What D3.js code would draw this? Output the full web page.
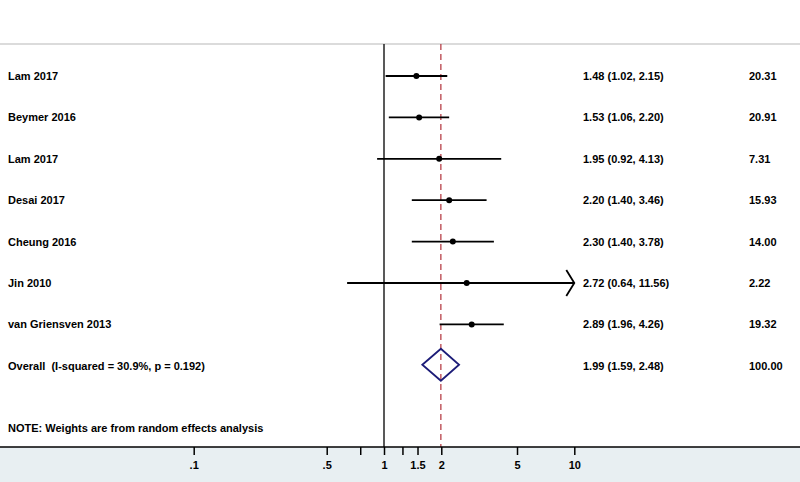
<!DOCTYPE html>
<html>
<head>
<meta charset="utf-8">
<script src="https://cdn.jsdelivr.net/npm/d3@7"></script>
<style>
  body { margin: 0; background: #fff; }
  svg text { font-family: "Liberation Sans", Arial, Helvetica, sans-serif; font-weight: bold; font-size: 11px; fill: #000; white-space: pre; }
</style>
</head>
<body>
<div id="chart"></div>
<script>
// study rows
var studies = ["Lam 2017", "Beymer 2016", "Lam 2017", "Desai 2017", "Cheung 2016", "Jin 2010", "van Griensven 2013"];
var es = [1.48, 1.53, 1.95, 2.20, 2.30, 2.72, 2.89];
var lower = [1.02, 1.06, 0.92, 1.40, 1.40, 0.64, 1.96];
var upper = [2.15, 2.20, 4.13, 3.46, 3.78, 11.56, 4.26];
var weights = ["20.31", "20.91", "7.31", "15.93", "14.00", "2.22", "19.32"];

// pooled estimate
var overallLabel = "Overall  (I-squared = 30.9%, p = 0.192)";
var overall = { es: 1.99, lo: 1.59, hi: 2.48, weight: "100.00" };
var note = "NOTE: Weights are from random effects analysis";

// x axis
var tickValues = [0.1, 0.5, 0.75, 1, 1.25, 1.5, 2, 5, 10];
var tickLabels = { 0.1: ".1", 0.5: ".5", 1: "1", 1.5: "1.5", 2: "2", 5: "5", 10: "10" };

var width = 800, height = 482;
var axisY = 447, topY = 44;

var svg = d3.select("#chart").append("svg")
    .attr("width", width)
    .attr("height", height);

var x = d3.scaleLog().domain([0.1, 10]).range([193.7, 574.3]);
var y = d3.scaleLinear().domain([0, 7]).range([76, 365.8]);

function fmt(v) { return v.toFixed(2); }

// axis background
svg.append("rect")
    .attr("x", 0).attr("y", axisY)
    .attr("width", width).attr("height", height - axisY)
    .attr("fill", "#e8eff2");

// top border
svg.append("line")
    .attr("x1", 0).attr("x2", width)
    .attr("y1", topY).attr("y2", topY)
    .attr("stroke", "#cfcfcf").attr("stroke-width", 1.5);

// null line
svg.append("line")
    .attr("x1", x(1)).attr("x2", x(1))
    .attr("y1", topY).attr("y2", axisY)
    .attr("stroke", "#222").attr("stroke-width", 1.5);

// overall effect line
svg.append("line")
    .attr("x1", x(overall.es)).attr("x2", x(overall.es))
    .attr("y1", topY).attr("y2", axisY)
    .attr("stroke", "#b2323a").attr("stroke-width", 1.2)
    .attr("stroke-dasharray", "6,4");

// CIs
var rows = svg.selectAll(".study")
    .data(studies).enter().append("g")
    .attr("class", "study");

rows.append("line")
    .attr("x1", function(d, i) { return x(Math.max(lower[i], 0.1)); })
    .attr("x2", function(d, i) { return x(Math.min(upper[i], 10)); })
    .attr("y1", function(d, i) { return y(i); })
    .attr("y2", function(d, i) { return y(i); })
    .attr("stroke", "#000").attr("stroke-width", 1.8);

rows.append("circle")
    .attr("cx", function(d, i) { return x(es[i]); })
    .attr("cy", function(d, i) { return y(i); })
    .attr("r", 3)
    .attr("fill", "#000");

// arrow where the CI is cut off
rows.each(function(d, i) {
    if (upper[i] <= 10) return;
    var xe = x(10), yy = y(i);
    d3.select(this).append("path")
        .attr("d", "M" + (xe - 8) + "," + (yy - 13) + "L" + xe + "," + yy + "L" + (xe - 8) + "," + (yy + 13))
        .attr("fill", "none").attr("stroke", "#000").attr("stroke-width", 1.8);
});

rows.append("text")
    .attr("x", 8).attr("y", function(d, i) { return y(i) + 4; })
    .text(function(d) { return d; });

rows.append("text")
    .attr("x", 583).attr("y", function(d, i) { return y(i) + 4; })
    .text(function(d, i) { return fmt(es[i]) + " (" + fmt(lower[i]) + ", " + fmt(upper[i]) + ")"; });

rows.append("text")
    .attr("x", 749).attr("y", function(d, i) { return y(i) + 4; })
    .text(function(d, i) { return weights[i]; });

// overall diamond
var oy = y(7) - 1;
svg.append("path")
    .attr("d", "M" + x(overall.lo) + "," + oy +
               "L" + x(overall.es) + "," + (oy - 16) +
               "L" + x(overall.hi) + "," + oy +
               "L" + x(overall.es) + "," + (oy + 16) + "Z")
    .attr("fill", "none").attr("stroke", "#1c1c78").attr("stroke-width", 1.8);

svg.append("text").attr("x", 8).attr("y", y(7) + 4)
    .attr("xml:space", "preserve").text(overallLabel);
svg.append("text").attr("x", 583).attr("y", y(7) + 4)
    .text(fmt(overall.es) + " (" + fmt(overall.lo) + ", " + fmt(overall.hi) + ")");
svg.append("text").attr("x", 749).attr("y", y(7) + 4).text(overall.weight);

svg.append("text").attr("x", 8).attr("y", y(8.5) + 4).text(note);

// x axis
var axis = d3.axisBottom(x)
    .tickValues(tickValues)
    .tickSize(8)
    .tickFormat(function(d) { return tickLabels[d] || ""; });

var gx = svg.append("g")
    .attr("transform", "translate(0," + axisY + ")")
    .call(axis);
gx.select(".domain").remove();
gx.selectAll(".tick line").attr("stroke", "#000").attr("stroke-width", 1.5);
gx.selectAll(".tick text")
    .attr("y", 14)
    .style("font-family", "'Liberation Sans', Arial, sans-serif")
    .style("font-weight", "bold")
    .style("font-size", "11px")
    .attr("fill", "#000");

svg.append("line")
    .attr("x1", 0).attr("x2", width)
    .attr("y1", axisY).attr("y2", axisY)
    .attr("stroke", "#000").attr("stroke-width", 1.5);
</script>
</body>
</html>
